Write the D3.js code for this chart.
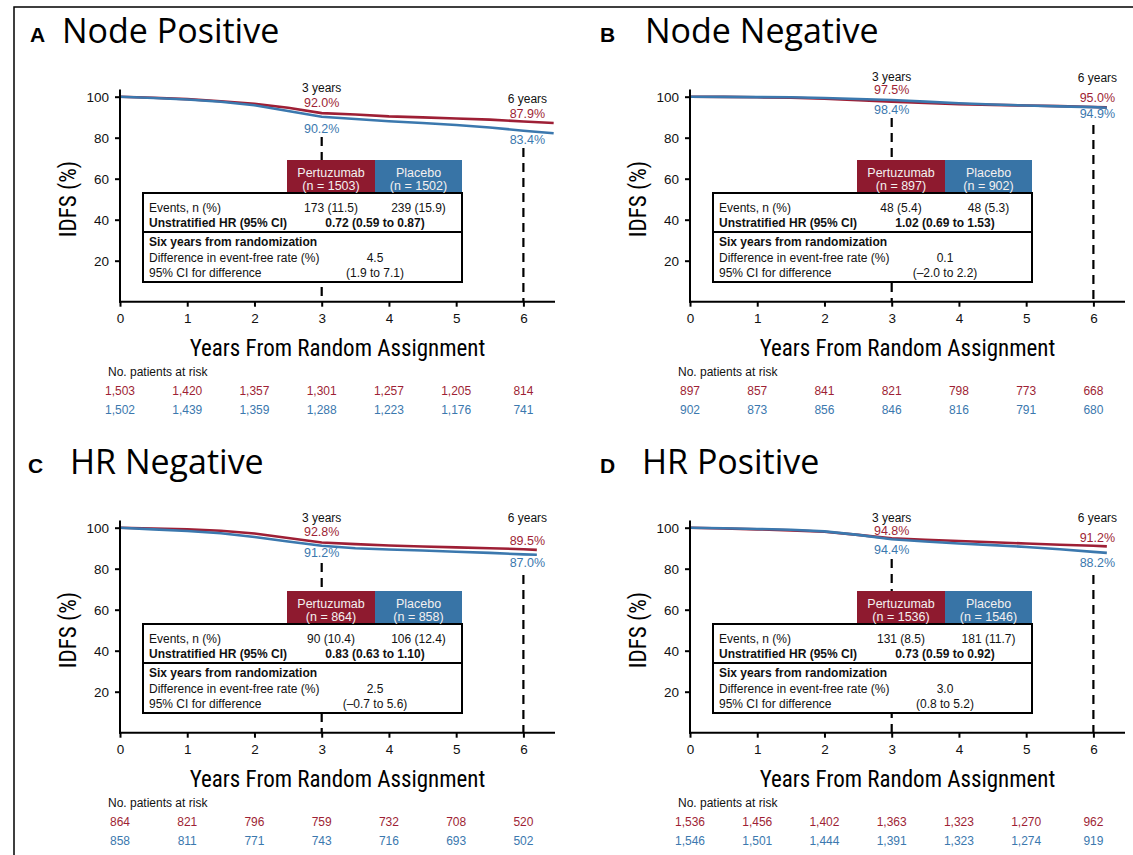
<!DOCTYPE html>
<html>
<head>
<meta charset="utf-8">
<script src="https://cdn.jsdelivr.net/npm/d3@7"></script>
<style>
  body { margin: 0; background: #fff; }
  svg { display: block; }
  text { font-family: "Liberation Sans", Arial, sans-serif; }
  .cond { font-family: "Liberation Sans Narrow", "Roboto Condensed", "Liberation Sans", sans-serif; }
</style>
</head>
<body>
<svg id="viz" width="1133" height="855"></svg>
<script>
// Data
const panelLetters = ["A", "B", "C", "D"];
const panelTitles = ["Node Positive", "Node Negative", "HR Negative", "HR Positive"];
const years = [0, 0.5, 1, 1.5, 2, 2.5, 3, 3.5, 4, 4.5, 5, 5.5, 6];
const endYears = [6.45, 6.2, 6.2, 6.2];

const idfsRed = [
  [100, 99.5, 98.8, 97.8, 96.5, 94.6, 92.0, 91.3, 90.4, 89.9, 89.4, 88.8, 87.9, 87.2],
  [100, 99.9, 99.7, 99.5, 99.0, 98.3, 97.5, 97.0, 96.4, 96.0, 95.7, 95.4, 95.0, 94.8],
  [100, 99.6, 99.2, 98.5, 97.2, 95.0, 92.8, 92.0, 91.3, 90.8, 90.4, 90.0, 89.5, 89.2],
  [100, 99.6, 99.2, 98.7, 98.0, 96.5, 94.8, 94.1, 93.5, 92.9, 92.3, 91.7, 91.2, 90.9]
];
const idfsBlue = [
  [100, 99.4, 98.6, 97.5, 95.8, 93.0, 90.2, 89.1, 88.0, 87.2, 86.2, 85.0, 83.4, 82.2],
  [100, 99.9, 99.8, 99.7, 99.4, 98.9, 98.4, 97.6, 96.8, 96.2, 95.7, 95.3, 94.9, 94.6],
  [100, 99.2, 98.4, 97.3, 95.5, 93.3, 91.2, 90.0, 89.4, 88.9, 88.3, 87.7, 87.0, 86.8],
  [100, 99.7, 99.4, 99.0, 98.2, 96.5, 94.4, 93.3, 92.3, 91.5, 90.6, 89.5, 88.2, 87.7]
];

const pct3Red = ["92.0%", "97.5%", "92.8%", "94.8%"];
const pct3Blue = ["90.2%", "98.4%", "91.2%", "94.4%"];
const pct6Red = ["87.9%", "95.0%", "89.5%", "91.2%"];
const pct6Blue = ["83.4%", "94.9%", "87.0%", "88.2%"];

const nRed = [1503, 897, 864, 1536];
const nBlue = [1502, 902, 858, 1546];
const eventsRed = ["173 (11.5)", "48 (5.4)", "90 (10.4)", "131 (8.5)"];
const eventsBlue = ["239 (15.9)", "48 (5.3)", "106 (12.4)", "181 (11.7)"];
const hrText = ["0.72 (0.59 to 0.87)", "1.02 (0.69 to 1.53)", "0.83 (0.63 to 1.10)", "0.73 (0.59 to 0.92)"];
const diffText = ["4.5", "0.1", "2.5", "3.0"];
const ciText = ["(1.9 to 7.1)", "(\u20132.0 to 2.2)", "(\u20130.7 to 5.6)", "(0.8 to 5.2)"];

const riskRed = [
  ["1,503", "1,420", "1,357", "1,301", "1,257", "1,205", "814"],
  ["897", "857", "841", "821", "798", "773", "668"],
  ["864", "821", "796", "759", "732", "708", "520"],
  ["1,536", "1,456", "1,402", "1,363", "1,323", "1,270", "962"]
];
const riskBlue = [
  ["1,502", "1,439", "1,359", "1,288", "1,223", "1,176", "741"],
  ["902", "873", "856", "846", "816", "791", "680"],
  ["858", "811", "771", "743", "716", "693", "502"],
  ["1,546", "1,501", "1,444", "1,391", "1,323", "1,274", "919"]
];

const xTicks = [0, 1, 2, 3, 4, 5, 6];
const yTicks = [20, 40, 60, 80, 100];

// Layout (per panel)
const panelOrigin = [[0, 0], [570, 0], [0, 431], [570, 431]];
const titleX = [[30, 62], [600, 645], [28, 70], [600, 642]];
// baselines of annotation labels: [3y header, 3y red, 3y blue, 6y header, 6y red, 6y blue, dash3 top, dash6 top]
const labelY = [
  [92, 107, 133, 103, 118, 144, 137, 148],
  [81, 94, 114, 82, 102, 118, 118, 125],
  [91, 105, 126, 91, 114, 136, 132, 144],
  [91, 104, 123, 91, 111, 136, 128, 144]
];

const red = "#9e1f35", blue = "#3b78ae";
const redBox = "#8e1a2f", blueBox = "#3874a6";

const svg = d3.select("#viz");

// outer frame
svg.append("rect")
  .attr("x", 14).attr("y", 7).attr("width", 1200).attr("height", 900)
  .attr("fill", "none").attr("stroke", "#000").attr("stroke-width", 1.5);

panelLetters.forEach((letter, i) => {
  const [ox, oy] = panelOrigin[i];
  const g = svg.append("g");
  const x = d3.scaleLinear().domain([0, 6.47]).range([120 + ox, 555 + ox]);
  const y = d3.scaleLinear().domain([0, 100]).range([301.7 + oy, 96.7 + oy]);
  const x0 = x(0), y0 = y(0);

  // titles
  g.append("text").attr("x", titleX[i][0]).attr("y", oy + 42)
    .attr("font-size", 21).attr("font-weight", "bold").text(letter);
  g.append("text").attr("x", titleX[i][1]).attr("y", oy + 43)
    .style("font-family", "'Open Sans', sans-serif").attr("font-size", 34).text(panelTitles[i]);

  // dashed reference lines at 3 and 6 years
  [[3, labelY[i][6]], [6, labelY[i][7]]].forEach(([t, top]) => {
    g.append("line")
      .attr("x1", x(t)).attr("x2", x(t)).attr("y1", oy + top).attr("y2", y0)
      .attr("stroke", "#000").attr("stroke-width", 2.2).attr("stroke-dasharray", "9,6");
  });

  // curves
  const ts = years.concat([endYears[i]]);
  const line = d3.line().x(d => x(d[0])).y(d => y(d[1]));
  g.append("path").datum(ts.map((t, k) => [t, idfsRed[i][k]]))
    .attr("fill", "none").attr("stroke", red).attr("stroke-width", 2.6).attr("d", line);
  g.append("path").datum(ts.map((t, k) => [t, idfsBlue[i][k]]))
    .attr("fill", "none").attr("stroke", blue).attr("stroke-width", 2.6).attr("d", line);

  // axes
  const yAxis = g.append("g").attr("transform", `translate(${x0},0)`)
    .call(d3.axisLeft(y).tickValues(yTicks).tickSize(5).tickPadding(6));
  yAxis.select(".domain").remove();
  g.append("line").attr("x1", x0).attr("x2", x0).attr("y1", y(103.5)).attr("y2", y0 + 1)
    .attr("stroke", "#000").attr("stroke-width", 2);
  const xAxis = g.append("g").attr("transform", `translate(0,${y0})`)
    .call(d3.axisBottom(x).tickValues(xTicks).tickFormat(d3.format("d")).tickSize(5).tickPadding(7));
  xAxis.select(".domain").remove();
  g.append("line").attr("x1", x0 - 1).attr("x2", x(6.47)).attr("y1", y0).attr("y2", y0)
    .attr("stroke", "#000").attr("stroke-width", 2);
  [yAxis, xAxis].forEach(a => {
    a.selectAll(".tick line").attr("stroke-width", 2);
    a.selectAll(".tick text").attr("font-size", 13.5).attr("fill", "#111")
      .style("font-family", "'Liberation Sans', Arial, sans-serif");
  });

  // axis titles
  g.append("text").attr("class", "cond")
    .attr("transform", `translate(${ox + 76},${oy + 199}) rotate(-90)`)
    .attr("text-anchor", "middle").attr("font-size", 23).text("IDFS (%)");
  g.append("text").attr("class", "cond")
    .attr("x", (x(0) + x(6.47)) / 2).attr("y", oy + 356)
    .attr("text-anchor", "middle").attr("font-size", 23).text("Years From Random Assignment");

  // 3- and 6-year labels
  const ly = labelY[i];
  [[3, 0, "#111", "3 years"], [3, 1, red, pct3Red[i]], [3, 2, blue, pct3Blue[i]],
   [6, 3, "#111", "6 years"], [6, 4, red, pct6Red[i]], [6, 5, blue, pct6Blue[i]]]
    .forEach(([t, k, c, s]) => {
      g.append("text").attr("x", x(t) + (t === 6 ? 4 : 0)).attr("y", oy + ly[k])
        .attr("text-anchor", "middle").attr("font-size", k % 3 === 0 ? 12 : 12.5)
        .attr("fill", c).text(s);
    });

  // summary table
  const left = x0 + 23, redL = x0 + 167, mid = x0 + 255, right = x0 + 342;
  const hTop = oy + 160, hBot = oy + 193, div = oy + 232, bot = oy + 282;
  g.append("rect").attr("x", redL).attr("y", hTop).attr("width", mid - redL).attr("height", hBot - hTop).attr("fill", redBox);
  g.append("rect").attr("x", mid).attr("y", hTop).attr("width", right - mid).attr("height", hBot - hTop).attr("fill", blueBox);
  g.append("rect").attr("x", left).attr("y", hBot).attr("width", right - left).attr("height", bot - hBot)
    .attr("fill", "#fff").attr("stroke", "#000").attr("stroke-width", 2);
  g.append("line").attr("x1", left).attr("x2", right).attr("y1", div).attr("y2", div)
    .attr("stroke", "#000").attr("stroke-width", 2);

  const cRed = (redL + mid) / 2, cBlue = (mid + right) / 2;
  [["Pertuzumab", cRed, 177], [`(n = ${nRed[i]})`, cRed, 189.5],
   ["Placebo", cBlue, 177], [`(n = ${nBlue[i]})`, cBlue, 189.5]].forEach(([s, cx, by]) => {
    g.append("text").attr("x", cx).attr("y", oy + by).attr("text-anchor", "middle")
      .attr("font-size", 12.5).attr("fill", "#f4f0f0").text(s);
  });

  const rows = [
    ["Events, n (%)", 211.5, "normal"],
    ["Unstratified HR (95% CI)", 226.5, "bold"],
    ["Six years from randomization", 245.5, "bold"],
    ["Difference in event-free rate (%)", 261.5, "normal"],
    ["95% CI for difference", 277, "normal"]
  ];
  rows.forEach(([s, by, w]) => {
    g.append("text").attr("x", left + 6).attr("y", oy + by)
      .attr("font-size", 12).attr("font-weight", w).attr("fill", "#111").text(s);
  });
  [[eventsRed[i], cRed, 211.5, "normal"], [eventsBlue[i], cBlue, 211.5, "normal"],
   [hrText[i], mid, 226.5, "bold"], [diffText[i], mid, 261.5, "normal"], [ciText[i], mid, 277, "normal"]]
    .forEach(([s, cx, by, w]) => {
      g.append("text").attr("x", cx).attr("y", oy + by).attr("text-anchor", "middle")
        .attr("font-size", 12).attr("font-weight", w).attr("fill", "#111").text(s);
    });

  // patients at risk
  g.append("text").attr("x", x0 - 12).attr("y", oy + 376)
    .attr("font-size", 12).attr("fill", "#111").text("No. patients at risk");
  xTicks.forEach((t, k) => {
    g.append("text").attr("x", x(t)).attr("y", oy + 395).attr("text-anchor", "middle")
      .attr("font-size", 12).attr("fill", red).text(riskRed[i][k]);
    g.append("text").attr("x", x(t)).attr("y", oy + 414).attr("text-anchor", "middle")
      .attr("font-size", 12).attr("fill", blue).text(riskBlue[i][k]);
  });
});
</script>
</body>
</html>
